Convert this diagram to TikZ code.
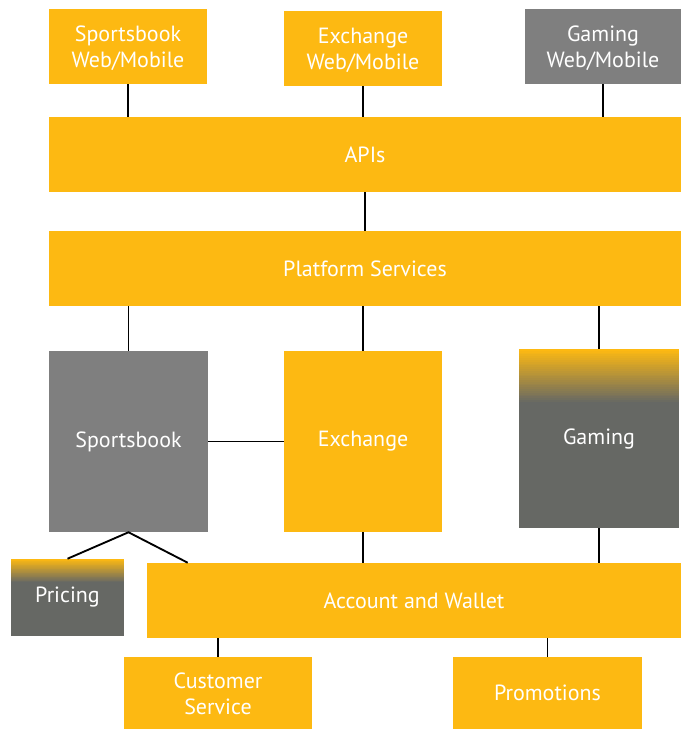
\documentclass[tikz,border=0pt]{standalone}
\usepackage{fontspec}
\setmainfont{PT Sans}
\usetikzlibrary{calc}
\definecolor{orng}{RGB}{253,185,18}
\definecolor{lgray}{RGB}{127,127,127}
\definecolor{dgray}{RGB}{102,104,100}
\newcommand{\twoline}[2]{\raisebox{-6.7pt}[0pt][0pt]{\begin{tabular}{@{}c@{}}#1\\#2\end{tabular}}}
\tikzset{
  bx/.style 2 args={rectangle, inner sep=0pt, align=center, text=white,
    font=\fontsize{16.5}{19.5}\selectfont,
    minimum width=#1*0.75pt, minimum height=#2*0.75pt},
  org/.style={fill=orng},
  gry/.style={fill=lgray},
  grad/.style={fill=dgray, path picture={
    \foreach \i in {0,...,29}{
      \pgfmathsetmacro{\pc}{100-\i*100/29}
      \fill[orng!\pc!dgray]
        ([yshift=-\i*#1/30]path picture bounding box.north west) rectangle
        ([yshift=-(\i+1.2)*#1/30]path picture bounding box.north east);}}},
  conn/.style={line width=1.4pt, black}
}
\begin{document}
\begin{tikzpicture}[x=0.75pt, y=-0.75pt]
\useasboundingbox (0,0) rectangle (681,730);
% top row
\node[bx={158}{75}, org] (sbw) at (128,46.5) {\twoline{Sportsbook}{Web/Mobile}};
\node[bx={158}{75}, org] (exw) at (363,48.5) {\twoline{Exchange}{Web/Mobile}};
\node[bx={156}{75}, gry] (gaw) at (603,46.5) {\twoline{Gaming}{Web/Mobile}};
% bars
\node[bx={632}{75}, org] (api) at (365,154.5) {APIs};
\node[bx={632}{75}, org] (plat) at (365,268.5) {Platform Services};
% products
\node[bx={159}{181}, gry] (sb) at (128.5,441.5) {Sportsbook};
\node[bx={158}{181}, org] (ex) at (363,441.5) {Exchange};
\node[bx={160}{179}, grad=41pt] (ga) at (599,438.5) {Gaming};
% lower
\node[bx={113}{77}, grad=18pt] (pr) at (67.5,597.5) {Pricing};
\node[bx={534}{75}, org] (aw) at (414,600.5) {Account and Wallet};
\node[bx={188}{72}, org] (cs) at (218,693) {\twoline{Customer}{Service}};
\node[bx={189}{72}, org] (pm) at (547.5,693) {Promotions};
\coordinate (awsb) at ([xshift=30.75pt]aw.north west);
% connectors
\draw[conn] (sbw.south) -- (sbw.south |- api.north);
\draw[conn] (exw.south) -- (exw.south |- api.north);
\draw[conn] (gaw.south) -- (gaw.south |- api.north);
\draw[conn] (api.south) -- (plat.north);
\draw[conn] (sb.north) -- (sb.north |- plat.south);
\draw[conn] (ex.north) -- (ex.north |- plat.south);
\draw[conn] (ga.north) -- (ga.north |- plat.south);
\draw[conn] (sb.east) -- (ex.west);
\draw[conn] (pr.north) -- (sb.south) -- (awsb);
\draw[conn] (ex.south) -- (ex.south |- aw.north);
\draw[conn] (ga.south) -- (ga.south |- aw.north);
\draw[conn] (cs.north) -- (cs.north |- aw.south);
\draw[conn] (pm.north) -- (pm.north |- aw.south);
\end{tikzpicture}
\end{document}
